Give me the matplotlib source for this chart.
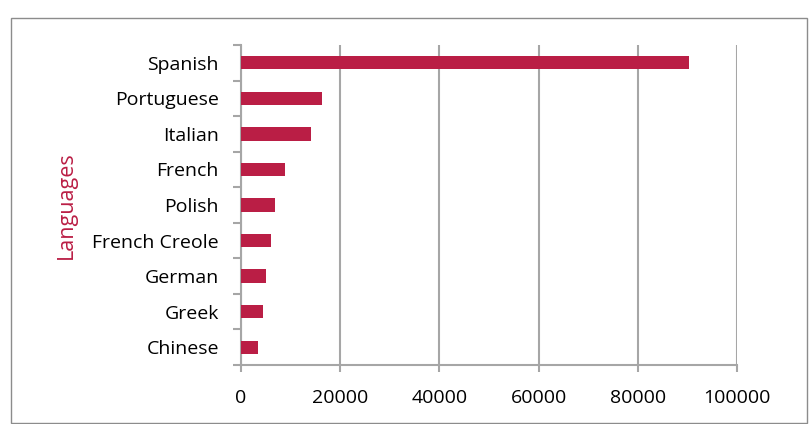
import matplotlib
matplotlib.use("Agg")
import matplotlib.pyplot as plt
from matplotlib.patches import Rectangle

languages = ["Spanish", "Portuguese", "Italian", "French", "Polish",
             "French Creole", "German", "Greek", "Chinese"]
speakers = [90300, 16400, 14200, 8900, 6850, 5950, 5100, 4500, 3350]
x_ticks = [0, 20000, 40000, 60000, 80000, 100000]

bar_color = "#BA1E45"
grid_color = "#A6A6A6"
plt.rcParams["font.family"] = ["Open Sans", "DejaVu Sans"]

fig = plt.figure(figsize=(8.09, 4.24), dpi=100)
fig.patches.append(Rectangle((11 / 809, 1 / 424), 796 / 809, 405 / 424,
                             transform=fig.transFigure, fill=False,
                             edgecolor="#8C8C8C", linewidth=1.0))

ax = fig.add_axes([241 / 809, 1 - 365 / 424, 496 / 809, 320 / 424])
n = len(languages)
ypos = list(range(n))[::-1]
ax.barh(ypos, speakers, height=0.375, color=bar_color, zorder=3)

ax.set_xlim(0, 100000)
ax.set_ylim(-0.5, n - 0.5)
ax.set_xticks(x_ticks)
ax.set_xticklabels([str(t) for t in x_ticks], fontsize=14)
ax.set_yticks(ypos)
ax.set_yticklabels(languages, fontsize=14)
ax.set_yticks([i - 0.5 for i in range(n + 1)], minor=True)

ax.tick_params(axis="y", which="major", length=0, pad=16)
ax.tick_params(axis="y", which="minor", length=6, width=1.5, color=grid_color, direction="out")
ax.tick_params(axis="x", which="major", length=5, width=1.5, color=grid_color, pad=12)

ax.grid(axis="x", color=grid_color, linewidth=1.5, zorder=0)
for side in ("top", "right"):
    ax.spines[side].set_visible(False)
for side in ("left", "bottom"):
    ax.spines[side].set_color(grid_color)
    ax.spines[side].set_linewidth(1.5)

ax.set_ylabel("Languages", color=bar_color, fontsize=15.5)
ax.yaxis.set_label_coords(-164 / 496, 0.5)

fig.savefig("out.png", dpi=100)
